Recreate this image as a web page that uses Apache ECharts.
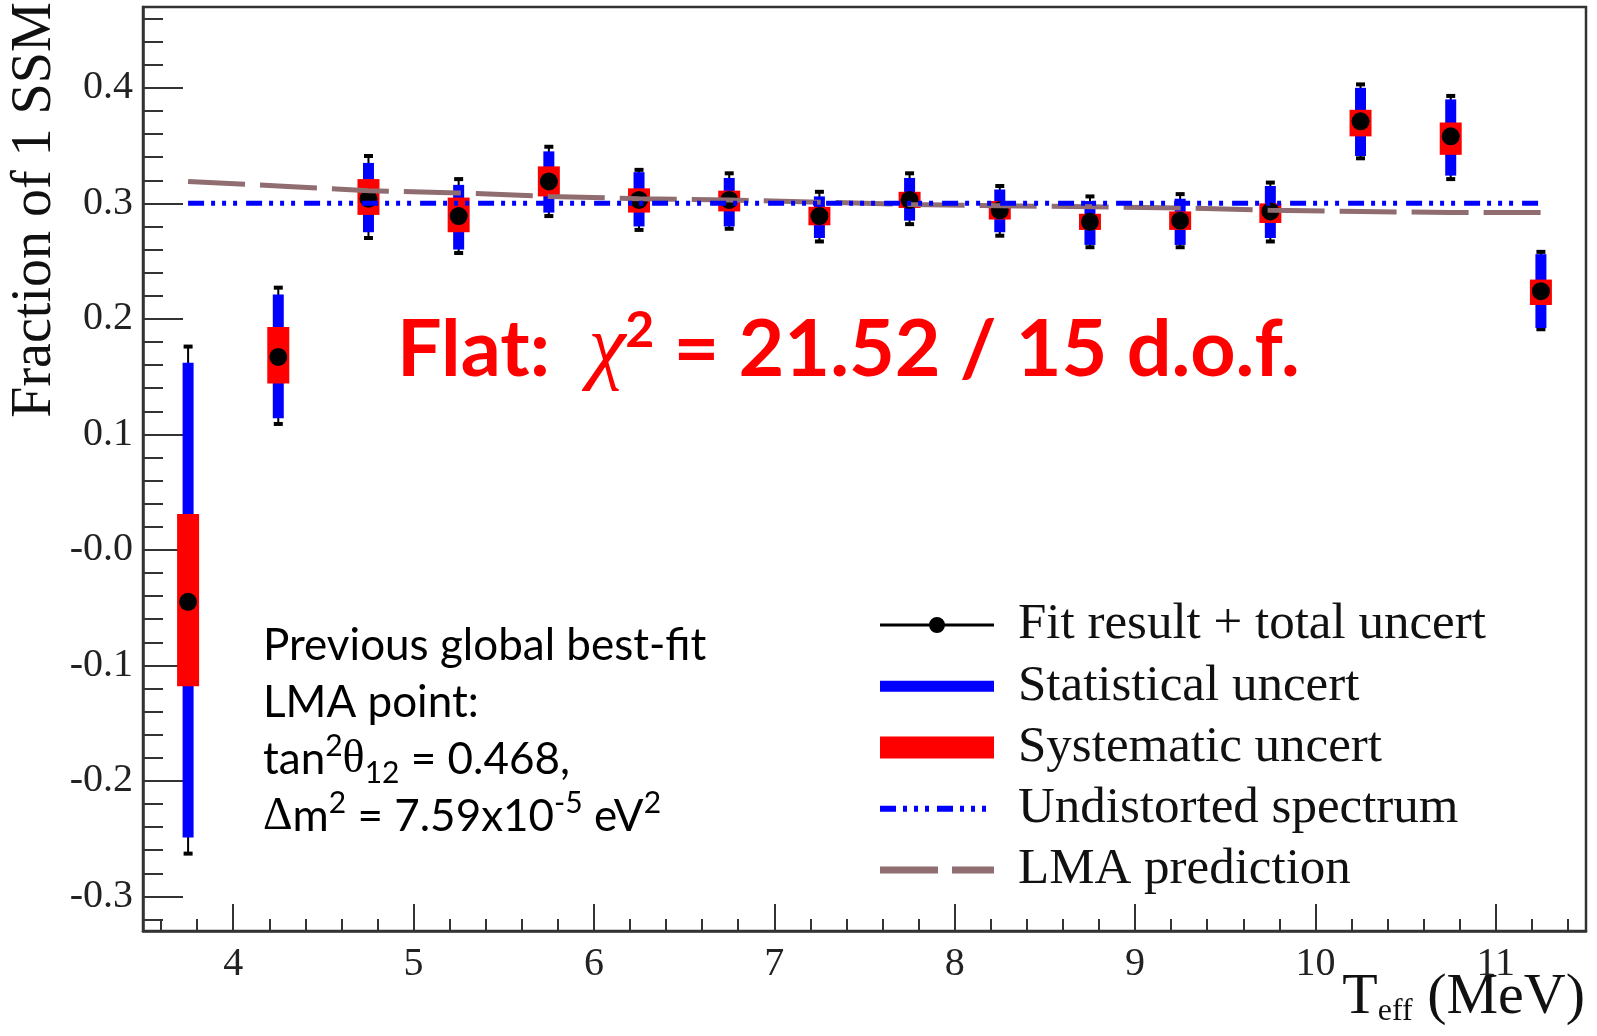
<!DOCTYPE html>
<html><head><meta charset="utf-8">
<script src="https://cdn.jsdelivr.net/npm/echarts@6/dist/echarts.min.js"></script>
<style>html,body{margin:0;padding:0;background:#fff}#c{width:1597px;height:1036px}</style>
</head><body><div id="c"></div>
<script>
// ---- data ----
const energy   = [3.75, 4.25, 4.75, 5.25, 5.75, 6.25, 6.75, 7.25, 7.75, 8.25, 8.75, 9.25, 9.75, 10.25, 10.75, 11.25];
const fraction = [-0.045, 0.167, 0.304, 0.289, 0.319, 0.303, 0.303, 0.289, 0.303, 0.294, 0.284, 0.285, 0.293, 0.371, 0.358, 0.224];
const totalHi  = [0.176, 0.227, 0.341, 0.321, 0.349, 0.329, 0.326, 0.310, 0.326, 0.315, 0.306, 0.308, 0.318, 0.403, 0.393, 0.258];
const totalLo  = [-0.263, 0.109, 0.270, 0.257, 0.289, 0.277, 0.278, 0.267, 0.282, 0.272, 0.262, 0.262, 0.267, 0.339, 0.321, 0.191];
const statHi   = [0.162, 0.221, 0.335, 0.316, 0.345, 0.327, 0.322, 0.306, 0.322, 0.312, 0.302, 0.304, 0.315, 0.400, 0.390, 0.256];
const statLo   = [-0.249, 0.114, 0.275, 0.260, 0.292, 0.280, 0.280, 0.270, 0.285, 0.275, 0.264, 0.264, 0.270, 0.341, 0.324, 0.192];
const sysHi    = [0.031, 0.193, 0.321, 0.305, 0.332, 0.313, 0.311, 0.297, 0.310, 0.302, 0.291, 0.293, 0.300, 0.381, 0.370, 0.234];
const sysLo    = [-0.118, 0.144, 0.290, 0.275, 0.306, 0.292, 0.293, 0.281, 0.296, 0.286, 0.277, 0.277, 0.283, 0.358, 0.342, 0.212];
const undistorted   = [0.3, 0.3, 0.3, 0.3, 0.3, 0.3, 0.3, 0.3, 0.3, 0.3, 0.3, 0.3, 0.3, 0.3, 0.3, 0.3];
const lmaPrediction = [0.319, 0.315, 0.311, 0.309, 0.306, 0.304, 0.303, 0.301, 0.299, 0.298, 0.297, 0.296, 0.294, 0.293, 0.292, 0.292];

const xTickValues = [4, 5, 6, 7, 8, 9, 10, 11];
const xTickLabels = ['4', '5', '6', '7', '8', '9', '10', '11'];
const yTickValues = [-0.3, -0.2, -0.1, 0, 0.1, 0.2, 0.3, 0.4];
const yTickLabels = ['-0.3', '-0.2', '-0.1', '-0.0', '0.1', '0.2', '0.3', '0.4'];

const seriesNames = ['Fit result + total uncert', 'Statistical uncert', 'Systematic uncert', 'Undistorted spectrum', 'LMA prediction'];
const yAxisTitle = 'Fraction of 1 SSM';

// minor tick positions (axis decoration)
const xMinorTicks = [];
for (let k = 18; k <= 57; k++) { if (k % 5 !== 0) xMinorTicks.push(+(k * 0.2).toFixed(2)); }
const yMinorTicks = [];
for (let k = -16; k <= 23; k++) { if (k % 5 !== 0) yMinorTicks.push(+(k * 0.02).toFixed(2)); }

const SERIF = "'Liberation Serif', 'DejaVu Serif', serif";
const SANS = "Lato, 'Open Sans', 'Noto Sans', sans-serif";
const AX = '#333';

function labelFor(values, labels) {
  return function (v) {
    const i = values.findIndex(t => Math.abs(t - v) < 1e-9);
    return i >= 0 ? labels[i] : '';
  };
}

const chart = echarts.init(document.getElementById('c'), null, { renderer: 'canvas' });

const option = {
  animation: false,
  backgroundColor: '#fff',
  grid: { left: 143, right: 11, top: 7, bottom: 105, show: true, borderColor: AX, borderWidth: 2.5, backgroundColor: 'transparent', outerBoundsMode: 'none' },
  xAxis: [
    {
      type: 'value', min: 3.5, max: 11.5, position: 'bottom',
      axisLine: { show: true, onZero: false, lineStyle: { color: AX, width: 2.5 } },
      axisTick: { show: true, inside: true, length: 27, customValues: xTickValues, lineStyle: { color: AX, width: 2 } },
      axisLabel: { customValues: xTickValues, formatter: labelFor(xTickValues, xTickLabels), fontFamily: SERIF, fontSize: 40, color: '#222', margin: 13 },
      splitLine: { show: false }
    },
    {
      type: 'value', min: 3.5, max: 11.5, position: 'bottom',
      axisLine: { show: false, onZero: false },
      axisTick: { show: true, inside: true, length: 12, customValues: xMinorTicks, lineStyle: { color: AX, width: 2 } },
      axisLabel: { show: false },
      splitLine: { show: false }
    }
  ],
  yAxis: [
    {
      type: 'value', min: -0.33, max: 0.47, position: 'left',
      axisLine: { show: true, onZero: false, lineStyle: { color: AX, width: 2.5 } },
      axisTick: { show: true, inside: true, length: 40, customValues: yTickValues, lineStyle: { color: AX, width: 2 } },
      axisLabel: { customValues: yTickValues, formatter: labelFor(yTickValues, yTickLabels), fontFamily: SERIF, fontSize: 40, color: '#222', margin: 10, padding: [22, 0, 0, 0] },
      splitLine: { show: false }
    },
    {
      type: 'value', min: -0.33, max: 0.47, position: 'left',
      axisLine: { show: false, onZero: false },
      axisTick: { show: true, inside: true, length: 20, customValues: yMinorTicks, lineStyle: { color: AX, width: 2 } },
      axisLabel: { show: false },
      splitLine: { show: false }
    }
  ],
  legend: {
    orient: 'vertical', left: 880, top: 599, padding: 0, itemGap: 9.25,
    itemWidth: 114, itemHeight: 22, selectedMode: false, symbolKeepAspect: false,
    itemStyle: { borderWidth: 0 },
    textStyle: { fontFamily: SERIF, fontSize: 51, color: '#111', lineHeight: 40, padding: [12, 0, 0, 19] },
    data: [
      { name: seriesNames[0], icon: 'path://M0,0M114,22M0,9.5H114V12.5H0Z M49,11A8,8 0 1 1 65,11A8,8 0 1 1 49,11Z', itemStyle: { color: '#000', borderWidth: 0 } },
      { name: seriesNames[1], icon: 'path://M0,0M114,22M0,5.5H114V16.5H0Z', itemStyle: { color: '#0000ff', borderWidth: 0 } },
      { name: seriesNames[2], icon: 'path://M0,0H114V22H0Z', itemStyle: { color: '#ff0000', borderWidth: 0 } },
      { name: seriesNames[3], icon: 'path://M0,0M114,22M0,8H16V14H0Z M23,8H27V14H23Z M34,8H38V14H34Z M45,8H49V14H45Z M57,8H73V14H57Z M80,8H84V14H80Z M91,8H95V14H91Z M102,8H106V14H102Z', itemStyle: { color: '#0000ff', borderWidth: 0 } },
      { name: seriesNames[4], icon: 'path://M0,0M114,22M0,7.5H58V14.5H0Z M72,7.5H114V14.5H72Z', itemStyle: { color: '#8f6d70', borderWidth: 0 } }
    ]
  },
  series: [
    {
      type: 'line', name: seriesNames[4], color: '#8f6d70',
      data: energy.map((e, i) => [e, lmaPrediction[i]]),
      symbol: 'none', silent: true,
      lineStyle: { color: '#8f6d70', width: 5, type: [57, 15] }
    },
    {
      type: 'line', name: seriesNames[3], color: '#0000ff',
      data: energy.map((e, i) => [e, undistorted[i]]),
      symbol: 'none', silent: true,
      lineStyle: { color: '#0000ff', width: 5, type: [16, 7, 4, 7, 4, 7, 4, 9] }
    },
    {
      type: 'custom', name: seriesNames[0], color: '#000',
      data: energy.map((e, i) => [e, totalLo[i], totalHi[i]]),
      encode: { x: 0, y: [1, 2] },
      renderItem: function (params, api) {
        const x = api.value(0);
        const top = api.coord([x, api.value(2)]);
        const bot = api.coord([x, api.value(1)]);
        return {
          type: 'group', children: [
            { type: 'line', shape: { x1: top[0], y1: top[1], x2: bot[0], y2: bot[1] }, style: { stroke: '#000', lineWidth: 2 } },
            { type: 'rect', shape: { x: top[0] - 4.5, y: top[1] - 2, width: 9, height: 4 }, style: { fill: '#000' } },
            { type: 'rect', shape: { x: bot[0] - 4.5, y: bot[1] - 2, width: 9, height: 4 }, style: { fill: '#000' } }
          ]
        };
      }
    },
    {
      type: 'custom', name: seriesNames[1], color: '#0000ff',
      data: energy.map((e, i) => [e, statLo[i], statHi[i]]),
      encode: { x: 0, y: [1, 2] },
      renderItem: function (params, api) {
        const x = api.value(0);
        const top = api.coord([x, api.value(2)]);
        const bot = api.coord([x, api.value(1)]);
        return { type: 'rect', shape: { x: top[0] - 5.5, y: top[1], width: 11, height: bot[1] - top[1] }, style: { fill: '#0000ff' } };
      }
    },
    {
      type: 'custom', name: seriesNames[2], color: '#ff0000',
      data: energy.map((e, i) => [e, sysLo[i], sysHi[i]]),
      encode: { x: 0, y: [1, 2] },
      renderItem: function (params, api) {
        const x = api.value(0);
        const top = api.coord([x, api.value(2)]);
        const bot = api.coord([x, api.value(1)]);
        return { type: 'rect', shape: { x: top[0] - 11, y: top[1], width: 22, height: bot[1] - top[1] }, style: { fill: '#ff0000' } };
      }
    },
    {
      type: 'scatter', name: seriesNames[0], color: '#000',
      data: energy.map((e, i) => [e, fraction[i]]),
      symbol: 'circle', symbolSize: 18,
      itemStyle: { color: '#000', borderWidth: 0, opacity: 1 },
      emphasis: { disabled: true }
    }
  ],
  graphic: [
    {
      type: 'text', x: 35, y: 210, rotation: Math.PI / 2,
      style: { text: yAxisTitle, fontFamily: SERIF, fontSize: 56, fill: '#111', align: 'center', verticalAlign: 'middle' }
    },
    {
      type: 'text', x: 1585, y: 968,
      style: {
        text: '{b|T}{s|eff}{b| (MeV)}', align: 'right', verticalAlign: 'top',
        rich: {
          b: { fontFamily: SERIF, fontSize: 58, lineHeight: 60, fill: '#111', verticalAlign: 'middle' },
          s: { fontFamily: SERIF, fontSize: 32, lineHeight: 8, fill: '#111', verticalAlign: 'bottom' }
        }
      }
    },
    {
      type: 'text', x: 397, y: 306,
      style: {
        text: '{a|Flat:  }{chi|χ}{sup|2}{a| = 21.52 / 15 d.o.f.}', align: 'left', verticalAlign: 'top',
        rich: {
          a: { fontFamily: SANS, fontWeight: 'bold', fontSize: 79, lineHeight: 90, fill: '#ff0000', verticalAlign: 'middle' },
          chi: { fontFamily: SERIF, fontStyle: 'italic', fontSize: 84, lineHeight: 90, fill: '#ff0000', verticalAlign: 'middle' },
          sup: { fontFamily: SANS, fontWeight: 'bold', fontSize: 50, lineHeight: 60, fill: '#ff0000', verticalAlign: 'top' }
        }
      }
    },
    {
      type: 'text', x: 263, y: 617,
      style: {
        text: '{t|Previous global best-fit}\n{t|LMA point:}\n{t|tan}{sup|2}{g|θ}{sub|12}{t| = 0.468,}\n{g|Δ}{t|m}{sup|2}{t| = 7.59x10}{sup|-5}{t| eV}{sup|2}',
        align: 'left', verticalAlign: 'top',
        rich: {
          t: { fontFamily: SANS, fontSize: 44, lineHeight: 57, fill: '#000', verticalAlign: 'middle' },
          g: { fontFamily: SERIF, fontSize: 46, lineHeight: 57, fill: '#000', verticalAlign: 'middle' },
          sup: { fontFamily: SANS, fontSize: 30, lineHeight: 42, fill: '#000', verticalAlign: 'top' },
          sub: { fontFamily: SANS, fontSize: 30, lineHeight: 24, fill: '#000', verticalAlign: 'bottom' }
        }
      }
    }
  ]
};

chart.setOption(option);
</script>
</body></html>
